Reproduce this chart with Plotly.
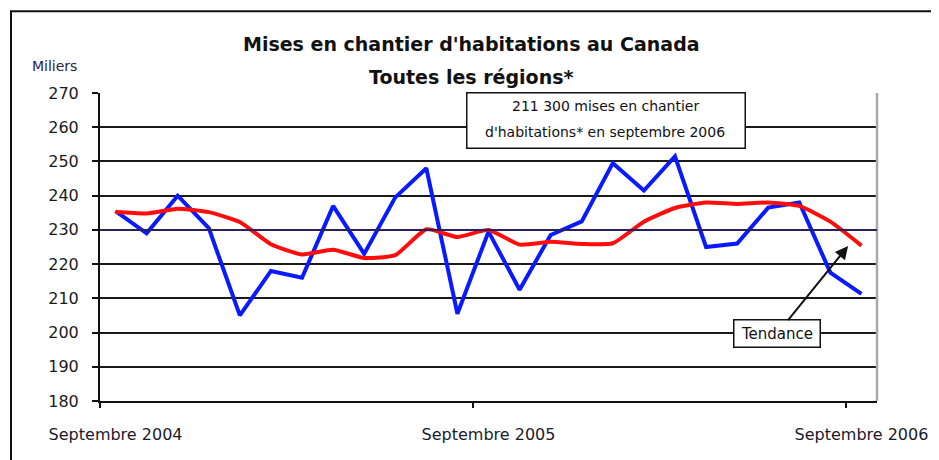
import plotly.graph_objects as go

# ---- data ----
months = ["2004-09", "2004-10", "2004-11", "2004-12", "2005-01", "2005-02", "2005-03",
          "2005-04", "2005-05", "2005-06", "2005-07", "2005-08", "2005-09", "2005-10",
          "2005-11", "2005-12", "2006-01", "2006-02", "2006-03", "2006-04", "2006-05",
          "2006-06", "2006-07", "2006-08", "2006-09"]
mises_en_chantier = [235.5, 229, 240, 230.5, 205, 218, 216, 237, 223, 239.5, 248, 205.5,
                     229.5, 212.5, 228.5, 232.5, 249.5, 241.5, 251.5, 225, 226, 236.5,
                     238, 217.5, 211.3]
tendance = [235.2, 234.8, 236.2, 235.2, 232.3, 225.8, 222.8, 224.2, 221.8, 222.6, 230.2,
            227.9, 230.0, 225.7, 226.5, 225.9, 226.1, 232.4, 236.4, 238.0, 237.6, 238.0,
            237.0, 232.4, 225.4]
tick_idx = [0, 12, 24]
tick_labels = ["Septembre 2004", "Septembre 2005", "Septembre 2006"]
y_ticks = list(range(180, 271, 10))

idx = list(range(len(months)))
FONT = "DejaVu Sans"

# page-pixel -> paper helpers (plot area: x 100..877, y 92.7..400.7)
PX0, PW, PY1, PH = 100.0, 777.0, 400.7, 308.0
def px(x):
    return (x - PX0) / PW
def py(y):
    return (PY1 - y) / PH

fig = go.Figure()
fig.add_trace(go.Scatter(x=idx, y=tendance, mode="lines", xaxis="x2",
                         line=dict(color="#ff0d0d", width=4, shape="spline", smoothing=0.5),
                         hoverinfo="skip", showlegend=False))
fig.add_trace(go.Scatter(x=idx, y=mises_en_chantier, mode="lines",
                         line=dict(color="#0a1aff", width=4),
                         hoverinfo="skip", showlegend=False))

n = len(idx)
fig.update_layout(
    width=939, height=460,
    margin=dict(l=92, r=70, t=85, b=67),
    paper_bgcolor="white", plot_bgcolor="white",
    font=dict(family=FONT, color="#1a1a1a"),
    xaxis=dict(range=[-0.5, n - 0.5], tickvals=tick_idx, ticktext=tick_labels,
               ticks="", showgrid=False, zeroline=False, showline=True,
               linecolor="#111", linewidth=2, tickfont=dict(size=16, color="#1a1a2a"),
               ticklabelstandoff=18),
    xaxis2=dict(range=[-0.5, n - 0.5], overlaying="x", anchor="y", side="bottom",
                tickvals=[-0.5, 11.5, 23.5], showticklabels=False, ticks="outside",
                ticklen=6, tickwidth=2, tickcolor="#111", showgrid=False,
                zeroline=False, showline=False),
    yaxis=dict(range=[180, 270], tickvals=y_ticks, ticks="outside", ticklen=6,
               tickwidth=2, tickcolor="#111", showgrid=True, gridcolor="#1a1a1a",
               gridwidth=2, zeroline=False, showline=True, linecolor="#111",
               linewidth=2, tickfont=dict(size=16, color="#1a1a1a"), ticklabelstandoff=10),
    shapes=[
        dict(type="line", xref="paper", yref="paper", x0=1, x1=1, y0=0, y1=1,
             line=dict(color="#a8a8a8", width=2.5)),
        dict(type="line", xref="paper", yref="y", x0=0, x1=1, y0=230, y1=230,
             line=dict(color="#2b1f5c", width=2)),
        dict(type="rect", xref="paper", yref="paper", x0=px(11), x1=1.2,
             y0=-0.4, y1=py(11), line=dict(color="#111", width=2)),
    ],
    annotations=[
        dict(text="<b>Mises en chantier d'habitations au Canada</b>", xref="paper", yref="paper",
             x=px(471), y=py(44), showarrow=False,
             font=dict(size=19, color="#111"), xanchor="center", yanchor="middle"),
        dict(text="<b>Toutes les régions*</b>", xref="paper", yref="paper",
             x=px(471), y=py(77), showarrow=False,
             font=dict(size=19, color="#111"), xanchor="center", yanchor="middle"),
        dict(text="Miliers", xref="paper", yref="paper", x=px(54), y=py(66),
             showarrow=False, font=dict(size=14, color="#2a2050"),
             xanchor="center", yanchor="middle"),
        # annotation box + its two lines
        dict(text=" ", xref="paper", yref="paper", x=px(605.5), y=py(120.5),
             xanchor="center", yanchor="middle", showarrow=False, width=277, height=54,
             bgcolor="white", bordercolor="#111", borderwidth=1.5, borderpad=0),
        dict(text="211 300 mises en chantier", xref="paper", yref="paper",
             x=px(605), y=py(105.5), xanchor="center", yanchor="middle", showarrow=False,
             font=dict(size=14, color="#111")),
        dict(text="d'habitations* en septembre 2006", xref="paper", yref="paper",
             x=px(604.5), y=py(132), xanchor="center", yanchor="middle", showarrow=False,
             font=dict(size=14, color="#111")),
        dict(text="Tendance", x=23.57, y=225.3, ax=21.28, ay=199.6, xref="x", yref="y",
             axref="x", ayref="y", showarrow=True, arrowhead=2, arrowsize=1.3,
             arrowwidth=2, arrowcolor="#111", font=dict(size=15, color="#111"),
             width=85, height=26, borderpad=0,
             bgcolor="white", bordercolor="#111", borderwidth=1.5),
    ],
)

fig.write_html("out.html")
